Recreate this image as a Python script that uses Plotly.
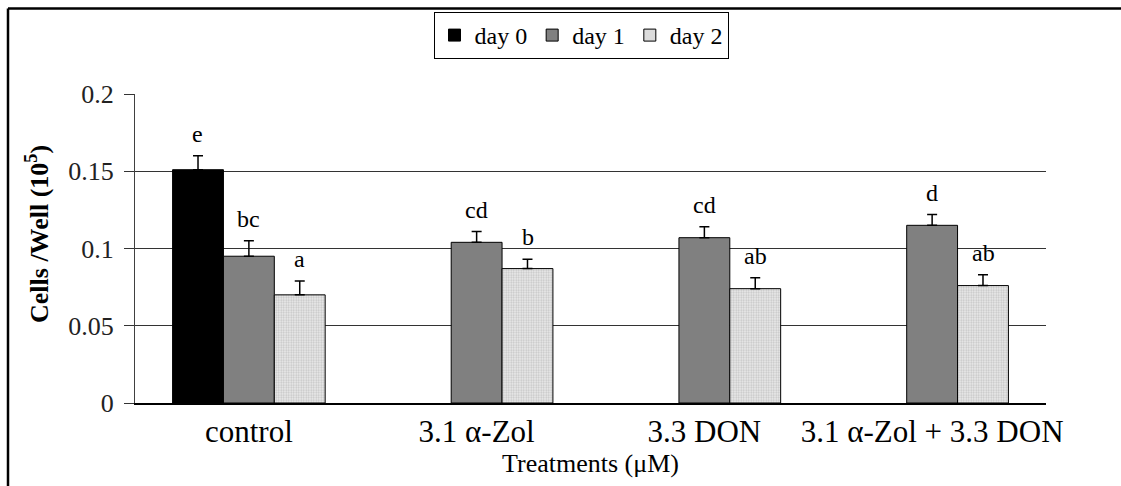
import plotly.graph_objects as go

# Treatments and measured cell counts (x 10^5 cells per well)
categories = ["control", "3.1 α-Zol", "3.3 DON", "3.1 α-Zol + 3.3 DON"]
day0 = [0.151, None, None, None]
day1 = [0.095, 0.104, 0.107, 0.115]
day2 = [0.070, 0.087, 0.074, 0.076]
day0_err = [0.009, 0, 0, 0]
day1_err = [0.010, 0.007, 0.007, 0.007]
day2_err = [0.009, 0.006, 0.007, 0.007]

# Significance letters per bar
day0_letters = ["e", None, None, None]
day1_letters = ["bc", "cd", "cd", "d"]
day2_letters = ["a", "b", "ab", "ab"]

yticks = [0, 0.05, 0.1, 0.15, 0.2]
ytick_text = ["0", "0.05", "0.1", "0.15", "0.2"]

FONT = "'Liberation Serif', 'Times New Roman', 'DejaVu Serif', serif"
W, H = 1121, 486
L, R, T, B = 135, 75, 94, 83
pw, ph = W - L - R, H - T - B


def err(e):
    return dict(type="data", symmetric=False, array=e, arrayminus=[0] * len(e),
                color="black", thickness=1.5, width=5)


fig = go.Figure()
fig.add_trace(go.Bar(name="day 0", x=categories, y=day0,
                     marker=dict(color="black", line=dict(color="black", width=1)),
                     error_y=err(day0_err)))
fig.add_trace(go.Bar(name="day 1", x=categories, y=day1,
                     marker=dict(color="#808080", line=dict(color="black", width=1)),
                     error_y=err(day1_err)))
fig.add_trace(go.Bar(name="day 2", x=categories, y=day2,
                     marker=dict(color="white", line=dict(color="black", width=1),
                                 pattern=dict(shape=".", fgcolor="#9a9a9a", bgcolor="#ececec",
                                              size=2.5, solidity=0.45)),
                     error_y=err(day2_err)))

# Letters above each error bar
bar_px = 51
for k, (vals, errs, letters) in enumerate([(day0, day0_err, day0_letters),
                                           (day1, day1_err, day1_letters),
                                           (day2, day2_err, day2_letters)]):
    for c, v, e, t in zip(categories, vals, errs, letters):
        if v is None or t is None:
            continue
        fig.add_annotation(x=c, y=v + e, text=t, showarrow=False,
                           xshift=(k - 1) * bar_px, yanchor="bottom", yshift=7,
                           font=dict(family=FONT, size=24, color="black"))


def px_x(p):
    return (p - L) / pw


def px_y(p):
    return (H - B - p) / ph


# Y-axis title, placed beside the tick labels
fig.add_annotation(xref="paper", yref="paper", x=px_x(38), y=px_y(234),
                   text="<b>Cells /Well (10<sup>5</sup>)</b>", textangle=-90,
                   showarrow=False, xanchor="center", yanchor="middle",
                   font=dict(family=FONT, size=26, color="black"))

# Outer frame (top and left edges)
fig.add_shape(type="line", xref="paper", yref="paper",
              x0=px_x(8), x1=px_x(W + 5), y0=px_y(8.5), y1=px_y(8.5),
              line=dict(color="black", width=2.5))
fig.add_shape(type="line", xref="paper", yref="paper",
              x0=px_x(8), x1=px_x(8), y0=px_y(8.5), y1=px_y(H + 5),
              line=dict(color="black", width=2.5))

fig.update_layout(
    width=W, height=H,
    margin=dict(l=L, r=R, t=T, b=B),
    paper_bgcolor="white", plot_bgcolor="white",
    barmode="group", bargap=0.33, bargroupgap=0,
    font=dict(family=FONT, color="black"),
    legend=dict(orientation="h", x=px_x(581), xanchor="center",
                y=px_y(12), yanchor="top",
                bordercolor="black", borderwidth=1,
                font=dict(family=FONT, size=24, color="black"),
                itemwidth=30, tracegroupgap=0),
    xaxis=dict(showline=True, linecolor="black", linewidth=1.5,
               ticks="", tickfont=dict(family=FONT, size=31, color="black"),
               title=dict(text="Treatments (μM)", standoff=4,
                          font=dict(family=FONT, size=26, color="black"))),
    yaxis=dict(range=[0, 0.2], tickvals=yticks, ticktext=ytick_text,
               showline=True, linecolor="#404040", linewidth=1.2,
               showgrid=True, gridcolor="#333333", gridwidth=1.2,
               ticks="outside", ticklen=10, tickcolor="#333333", tickwidth=1.2,
               ticklabelstandoff=5,
               tickfont=dict(family=FONT, size=26, color="#222222"),
               zeroline=False),
)

fig.write_html("out.html")
